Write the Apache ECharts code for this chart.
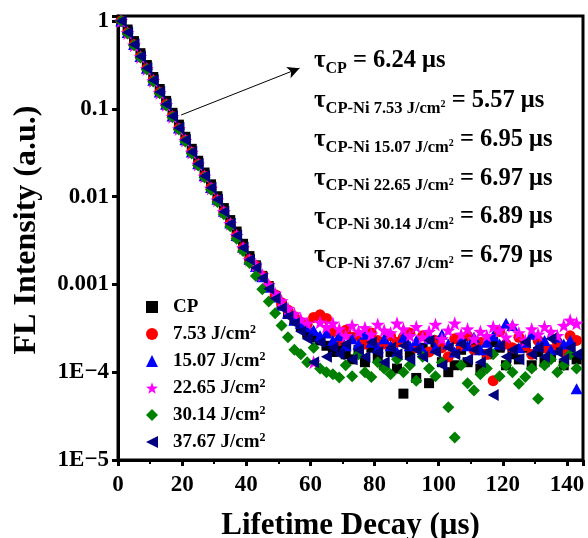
<!DOCTYPE html>
<html>
<head>
<meta charset="utf-8">
<script src="https://cdn.jsdelivr.net/npm/echarts@6/dist/echarts.min.js"></script>
<style>
html,body{margin:0;padding:0;background:#fff;}
#chart{width:588px;height:538px;}
</style>
</head>
<body>
<div id="chart"></div>
<script>
// ---- DATA ----
const time = [1,3,5,7,9,11,13,15,17,19,21,23,25,27,29,31,33,35,37,39,41,
  43,45,47,49,51,53,55,57,59,61,63,
  65,67,69,71,73,75,77,79,81,83,85,87,89,91,93,95,97,99,101,103,
  105,107,109,111,113,115,117,119,121,123,125,127,129,131,133,135,137,139,141,143];

const seriesNames = ['CP', '7.53 J/cm2', '15.07 J/cm2', '22.65 J/cm2', '30.14 J/cm2', '37.67 J/cm2'];

const cp = [1.0,0.80,0.59,0.43,0.315,0.23,0.168,0.123,0.09,0.066,0.048,0.035,0.0256,0.0188,0.0138,0.0101,0.0074,0.0054,0.0040,0.0029,0.0021,
  0.00165,0.00125,9.6e-4,7.4e-4,5.8e-4,4.6e-4,3.9e-4,3.3e-4,2.8e-4,2.5e-4,2.3e-4,
  2.0e-4,1.7e-4,1.9e-4,1.6e-4,1.4e-4,1.8e-4,1.3e-4,1.9e-4,1.5e-4,1.2e-4,1.7e-4,1.1e-4,5.7e-5,1.6e-4,8.6e-5,1.9e-4,7.5e-5,2.0e-4,1.3e-4,1.0e-4,
  1.2e-4,1.8e-4,1.3e-4,2.1e-4,1.1e-4,1.6e-4,2.2e-4,1.9e-4,1.2e-4,1.6e-4,1.4e-4,1.9e-4,1.2e-4,1.7e-4,1.3e-4,1.5e-4,1.8e-4,1.2e-4,1.6e-4,1.4e-4];

const ni753 = [1.0,0.73,0.535,0.39,0.286,0.209,0.153,0.112,0.0817,0.0597,0.0437,0.0319,0.0233,0.0171,0.0125,0.00912,0.00667,0.00488,0.00356,0.00261,0.00191,
  0.00162,0.00125,9.6e-4,7.6e-4,6.2e-4,5.1e-4,4.3e-4,3.7e-4,3.5e-4,4.2e-4,4.5e-4,
  4.1e-4,2.9e-4,2.3e-4,3.0e-4,2.5e-4,2.6e-4,2.1e-4,2.8e-4,2.3e-4,2.1e-4,2.6e-4,2.2e-4,2.5e-4,2.8e-4,1.9e-4,2.6e-4,1.7e-4,2.3e-4,1.9e-4,1.5e-4,
  2.4e-4,2.0e-4,2.6e-4,1.8e-4,2.2e-4,1.6e-4,8.0e-5,2.9e-4,2.1e-4,1.9e-4,2.5e-4,2.0e-4,1.6e-4,2.3e-4,1.9e-4,1.8e-4,2.2e-4,1.7e-4,2.6e-4,2.3e-4];

const ni1507 = [1.0,0.74,0.54,0.395,0.29,0.212,0.155,0.113,0.083,0.0605,0.0443,0.0323,0.0236,0.0173,0.0127,0.0093,0.0068,0.0050,0.0036,0.00265,0.00194,
  0.00160,0.00122,9.3e-4,7.2e-4,5.8e-4,4.7e-4,3.9e-4,3.6e-4,3.3e-4,3.0e-4,2.6e-4,
  2.8e-4,2.3e-4,2.6e-4,2.0e-4,2.4e-4,2.1e-4,2.7e-4,2.2e-4,1.9e-4,2.4e-4,2.0e-4,1.7e-4,2.5e-4,2.0e-4,2.3e-4,1.8e-4,2.4e-4,1.9e-4,2.7e-4,2.1e-4,
  1.7e-4,2.3e-4,2.0e-4,2.5e-4,1.8e-4,2.2e-4,2.6e-4,2.1e-4,3.6e-4,3.4e-4,1.9e-4,2.2e-4,2.7e-4,2.0e-4,2.3e-4,1.8e-4,2.5e-4,2.1e-4,2.3e-4,6.5e-5];

const ni2265 = [1.0,0.73,0.53,0.39,0.284,0.208,0.152,0.111,0.081,0.059,0.0435,0.0318,0.0232,0.0170,0.0124,0.0091,0.0067,0.0049,0.0036,0.0026,0.0019,
  0.00165,0.00128,9.9e-4,7.9e-4,6.5e-4,5.3e-4,4.6e-4,4.0e-4,3.6e-4,1.3e-4,3.7e-4,
  3.3e-4,3.6e-4,3.1e-4,2.6e-4,3.4e-4,2.9e-4,3.2e-4,2.7e-4,3.5e-4,3.0e-4,2.8e-4,3.6e-4,3.1e-4,2.6e-4,3.3e-4,2.5e-4,2.9e-4,3.5e-4,2.4e-4,3.0e-4,
  3.6e-4,2.7e-4,3.1e-4,2.4e-4,2.9e-4,2.6e-4,3.3e-4,3.0e-4,2.5e-4,3.4e-4,2.8e-4,2.3e-4,3.1e-4,2.7e-4,3.3e-4,2.9e-4,2.6e-4,3.4e-4,3.9e-4,3.6e-4];

const ni3014 = [1.0,0.72,0.53,0.385,0.28,0.205,0.15,0.109,0.080,0.058,0.0425,0.031,0.0226,0.0165,0.012,0.0087,0.0063,0.0046,0.0033,0.0024,0.00175,
  0.00125,8.8e-4,6.4e-4,4.7e-4,3.4e-4,2.5e-4,1.8e-4,1.6e-4,1.3e-4,1.9e-4,1.1e-4,
  1.0e-4,9.5e-5,8.7e-5,1.2e-4,9.0e-5,1.6e-4,1.0e-4,8.8e-5,1.3e-4,1.1e-4,9.5e-5,1.4e-4,1.0e-4,1.2e-4,8.0e-5,1.5e-4,1.1e-4,9.0e-5,1.3e-4,4.0e-5,
  1.8e-5,1.2e-4,7.5e-5,6.2e-5,9.5e-5,1.1e-4,1.6e-4,9.0e-5,1.2e-4,1.0e-4,7.4e-5,8.8e-5,1.1e-4,5.0e-5,1.2e-4,1.4e-4,1.0e-4,1.2e-4,1.6e-4,1.1e-4];

const ni3767 = [1.0,0.74,0.54,0.395,0.29,0.211,0.155,0.113,0.0825,0.0603,0.044,0.0322,0.0235,0.0172,0.0126,0.0092,0.0067,0.0049,0.0036,0.00262,0.00191,
  0.00155,0.00118,8.9e-4,6.9e-4,5.4e-4,4.3e-4,3.6e-4,2.9e-4,2.4e-4,1.3e-4,2.2e-4,
  1.5e-4,1.9e-4,1.6e-4,2.1e-4,1.4e-4,1.8e-4,1.5e-4,2.2e-4,1.7e-4,1.3e-4,1.9e-4,1.6e-4,2.0e-4,1.4e-4,1.8e-4,1.5e-4,2.3e-4,1.7e-4,1.2e-4,1.9e-4,
  1.6e-4,2.1e-4,1.4e-4,1.8e-4,1.3e-4,1.7e-4,5.5e-5,2.0e-4,1.5e-4,1.8e-4,1.4e-4,2.2e-4,1.6e-4,1.9e-4,1.5e-4,2.4e-4,1.7e-4,1.4e-4,1.9e-4,1.6e-4];

const yTickLabels = {'0': '1', '-1': '0.1', '-2': '0.01', '-3': '0.001', '-4': '1E\u22124', '-5': '1E\u22125'};
const xTickStep = 20;

const tauSubs = ['CP', 'CP-Ni 7.53 J/cm', 'CP-Ni 15.07 J/cm', 'CP-Ni 22.65 J/cm', 'CP-Ni 30.14 J/cm', 'CP-Ni 37.67 J/cm'];
const tauValues = ['6.24', '5.57', '6.95', '6.97', '6.89', '6.79'];

// arrow annotation (data coordinates)
const arrowFrom = [19.7, 0.085];
const arrowTo = [56.6, 0.29];

// ---- CHART ----
const FONT = '"Liberation Serif", "Times New Roman", serif';
const seriesValues = [cp, ni753, ni1507, ni2265, ni3014, ni3767];
const colors = ['#000000', '#ff0000', '#0000ff', '#ff00ff', '#008000', '#000080'];
const starPath = 'path://M0,-10 L2.35,-3.24 L9.51,-3.09 L3.8,1.24 L5.88,8.09 L0,4 L-5.88,8.09 L-3.8,1.24 L-9.51,-3.09 L-2.35,-3.24 Z';
const leftTriPath = 'path://M0,5 L10,0 L10,10 Z';
const symbols = ['rect', 'circle', 'triangle', starPath, 'diamond', leftTriPath];
const sizes = [[10,10], 11, [12,11], 14, [12,12], [11,12]];

const chart = echarts.init(document.getElementById('chart'), null, {renderer: 'canvas'});

const series = seriesNames.map((name, i) => ({
  name: name,
  type: 'scatter',
  data: time.map((t, k) => [t, seriesValues[i][k]]),
  symbol: symbols[i],
  symbolSize: sizes[i],
  itemStyle: {color: colors[i], opacity: 1},
  emphasis: {disabled: true},
  z: 2 + i
}));

series[0].markLine = {
  silent: true,
  symbol: ['none', 'arrow'],
  symbolSize: [9, 12],
  lineStyle: {color: '#000', width: 1, type: 'solid'},
  label: {show: false},
  data: [[{coord: arrowFrom}, {coord: arrowTo}]],
  z: 20
};

const graphics = tauSubs.map((sub, i) => {
  const text = i === 0
    ? '{t|\u03C4}{s1|' + sub + '}{m| = ' + tauValues[i] + ' \u03BCs}'
    : '{t|\u03C4}{s|' + sub + '}{ss|2}{m| = ' + tauValues[i] + ' \u03BCs}';
  return {
    type: 'text',
    left: 314,
    top: 45 + 38.9 * i,
    z: 50,
    style: {
      text: text,
      font: 'bold 24px ' + FONT,
      fill: '#000',
      rich: {
        t: {fontSize: 25, fontFamily: FONT, fontWeight: 'bold', lineHeight: 28},
        m: {fontSize: 24.5, fontFamily: FONT, fontWeight: 'bold', lineHeight: 28},
        s1: {fontSize: 16, fontFamily: FONT, fontWeight: 'bold', lineHeight: 16, padding: [16, 0, 0, 0]},
        s: {fontSize: 16.5, fontFamily: FONT, fontWeight: 'bold', lineHeight: 16, padding: [16, 0, 0, 0]},
        ss: {fontSize: 10, fontFamily: FONT, fontWeight: 'bold', lineHeight: 10, padding: [8, 0, 0, 0]}
      }
    }
  };
});

chart.setOption({
  animation: false,
  backgroundColor: '#fff',
  grid: {left: 118, right: 5, top: 16, bottom: 78, show: true, borderColor: '#000', borderWidth: 3,
    backgroundColor: 'transparent', containLabel: false, outerBoundsMode: 'none'},
  xAxis: {
    type: 'value',
    min: 0, max: 145, interval: xTickStep,
    name: 'Lifetime Decay (\u03BCs)',
    nameLocation: 'middle',
    nameGap: 50,
    nameTextStyle: {fontFamily: FONT, fontWeight: 'bold', fontSize: 31, color: '#000'},
    axisLine: {show: true, onZero: false, lineStyle: {color: '#000', width: 3}},
    axisTick: {show: true, inside: false, length: 6, lineStyle: {color: '#000', width: 3}},
    minorTick: {show: true, splitNumber: 2, length: 4, lineStyle: {color: '#000', width: 2}},
    splitLine: {show: false},
    axisLabel: {
      fontFamily: FONT, fontWeight: 'bold', fontSize: 23, color: '#000', margin: 14,
      formatter: v => (Math.abs(v % xTickStep) < 1e-9 ? String(v) : '')
    }
  },
  yAxis: {
    type: 'log',
    logBase: 10,
    min: 1e-5, max: 1.14,
    name: 'FL Intensity (a.u.)',
    nameLocation: 'middle',
    nameRotate: 90,
    nameGap: 75,
    nameTextStyle: {fontFamily: FONT, fontWeight: 'bold', fontSize: 32, color: '#000', padding: [0, 0, 0, 16]},
    axisLine: {show: true, onZero: false, lineStyle: {color: '#000', width: 3}},
    axisTick: {show: true, inside: false, length: 6, lineStyle: {color: '#000', width: 3}},
    splitLine: {show: false},
    axisLabel: {
      fontFamily: FONT, fontWeight: 'bold', fontSize: 23, color: '#000', margin: 9,
      formatter: v => {
        const l = Math.log10(v);
        const r = Math.round(l);
        if (Math.abs(l - r) > 1e-6) return '';
        return yTickLabels[String(r)] || '';
      }
    }
  },
  legend: {
    orient: 'vertical',
    left: 141,
    top: 292,
    itemWidth: 12,
    itemHeight: 12,
    itemGap: 7,
    data: seriesNames,
    formatter: name => name.replace('cm2', 'cm{sup|2}'),
    textStyle: {
      fontFamily: FONT, fontWeight: 'bold', fontSize: 19, color: '#000', lineHeight: 20,
      padding: [0, 0, 0, 10],
      rich: {
        sup: {fontFamily: FONT, fontWeight: 'bold', fontSize: 12, lineHeight: 12, verticalAlign: 'top', color: '#000'}
      }
    },
    selectedMode: false
  },
  graphic: graphics,
  series: series
});
</script>
</body>
</html>
